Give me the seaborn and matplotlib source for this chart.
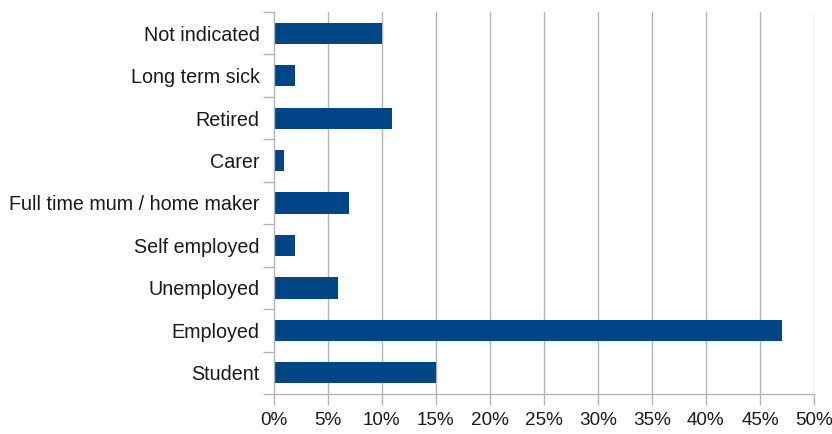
import matplotlib
matplotlib.use("Agg")
import matplotlib.pyplot as plt
import seaborn as sns
import pandas as pd
import numpy as np

categories = ["Not indicated", "Long term sick", "Retired", "Carer",
              "Full time mum / home maker", "Self employed", "Unemployed",
              "Employed", "Student"]
values = [10, 2, 11, 1, 7, 2, 6, 47, 15]
xticks = [0, 5, 10, 15, 20, 25, 30, 35, 40, 45, 50]

sns.set_theme(style="white")
plt.rcParams['font.family'] = ['Liberation Sans', 'DejaVu Sans']

df = pd.DataFrame({"cat": categories, "val": values})

fig = plt.figure(figsize=(8.32, 4.34), dpi=100)
ax = fig.add_axes([273.5/832, 1-394/434, (814-273.5)/832, (394-12)/434])

grid_c = "#b3b3b3"
for t in xticks[1:]:
    ax.axvline(t, color=grid_c, lw=1, zorder=0)

sns.barplot(data=df, x="val", y="cat", order=categories, color="#004586",
            saturation=1, width=0.5, linewidth=0, ax=ax, zorder=2)

ax.set_xlim(0, 50)
ax.set_ylim(len(categories)-0.5, -0.5)
ax.set_xticks(xticks)
ax.set_xticklabels([f"{t}%" for t in xticks])
ax.set_xlabel("")
ax.set_ylabel("")

ax.set_yticks(np.arange(len(categories)))
ax.set_yticklabels(categories)
ax.set_yticks(np.arange(-0.5, len(categories)), minor=True)
ax.tick_params(axis="y", which="major", left=True, length=0, pad=10,
               labelsize=14.2, colors="#1a1a1a")
ax.tick_params(axis="y", which="minor", left=True, length=8, width=1, color=grid_c)
ax.tick_params(axis="x", which="major", bottom=True, length=8, width=1, color=grid_c,
               pad=5, labelsize=13.6, labelcolor="#1a1a1a")

for s in ["top", "right"]:
    ax.spines[s].set_visible(False)
for s in ["left", "bottom"]:
    ax.spines[s].set_visible(True)
    ax.spines[s].set_color(grid_c)
    ax.spines[s].set_linewidth(1)

fig.savefig("out.png", dpi=100)
